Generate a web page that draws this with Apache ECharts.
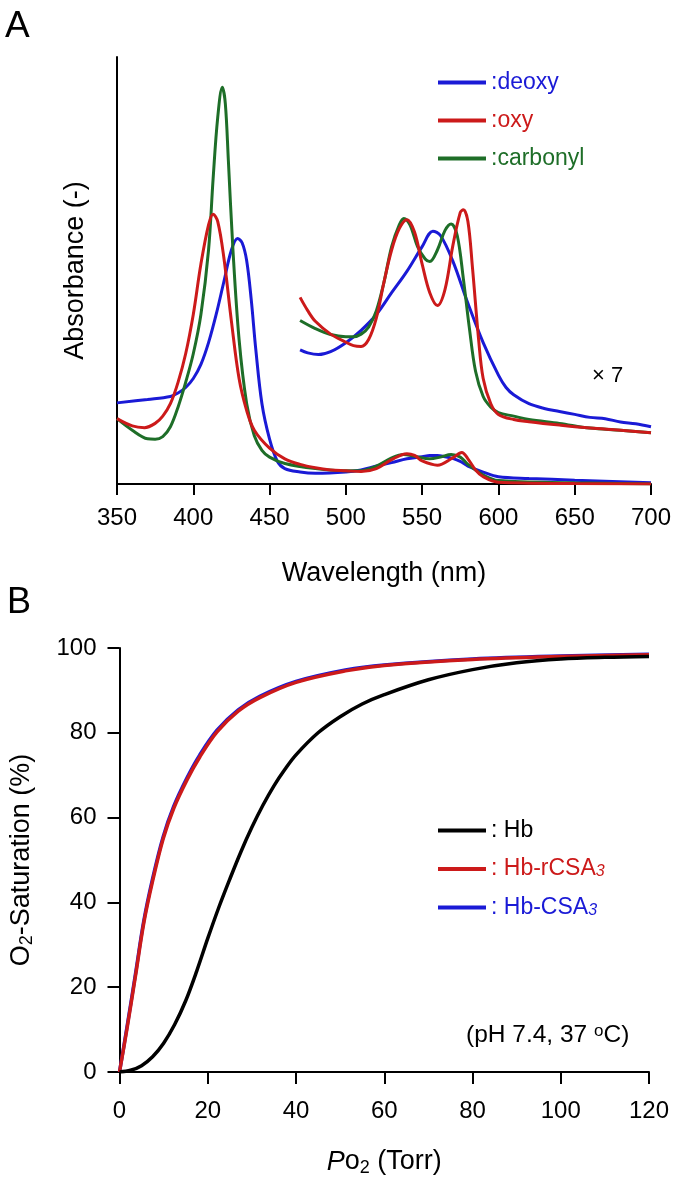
<!DOCTYPE html>
<html>
<head>
<meta charset="utf-8">
<script src="https://cdn.jsdelivr.net/npm/echarts@6/dist/echarts.min.js"></script>
<style>
html,body{margin:0;padding:0;background:#fff;}
#chart{width:675px;height:1178px;}
</style>
</head>
<body>
<div id="chart"></div>
<script>
// ---------- Panel A data: [wavelength nm, absorbance (relative)] ----------
const deoxyMain = [[350,0.190],[370,0.198],[385,0.205],[390,0.213],[395,0.226],[400,0.247],[405,0.280],[410,0.331],[415,0.397],[420,0.473],[425,0.548],[429,0.575],[432,0.565],[435,0.523],[438,0.431],[441,0.314],[445,0.188],[450,0.105],[455,0.054],[460,0.036],[470,0.028],[480,0.025],[500,0.028],[510,0.033],[520,0.042],[530,0.050],[540,0.059],[550,0.064],[555,0.067],[560,0.067],[565,0.064],[570,0.060],[575,0.053],[580,0.042],[590,0.028],[600,0.017],[620,0.013],[650,0.009],[700,0.003]];
const oxyMain = [[350,0.153],[360,0.136],[368,0.132],[375,0.142],[380,0.159],[385,0.188],[390,0.238],[395,0.305],[400,0.397],[405,0.515],[410,0.607],[413,0.632],[416,0.615],[420,0.531],[425,0.381],[430,0.247],[435,0.172],[440,0.126],[450,0.084],[460,0.059],[470,0.046],[480,0.038],[490,0.033],[500,0.031],[510,0.029],[520,0.036],[530,0.057],[540,0.071],[545,0.067],[550,0.054],[560,0.044],[570,0.061],[576,0.074],[580,0.059],[585,0.033],[590,0.017],[600,0.004],[650,0.001],[700,0.0]];
const carbonylMain = [[350,0.153],[360,0.126],[370,0.106],[375,0.105],[380,0.111],[385,0.134],[390,0.180],[395,0.238],[400,0.305],[405,0.397],[410,0.548],[413,0.715],[416,0.858],[419,0.929],[421,0.891],[423,0.757],[426,0.548],[430,0.339],[435,0.188],[440,0.113],[445,0.079],[450,0.063],[460,0.048],[480,0.036],[500,0.031],[510,0.031],[520,0.042],[530,0.061],[538,0.069],[545,0.065],[555,0.059],[562,0.063],[569,0.069],[575,0.063],[580,0.046],[590,0.021],[600,0.008],[650,0.003],[700,0.0]];
// x7 magnified visible region
const deoxyX7 = [[470,0.314],[475,0.307],[482,0.303],[490,0.310],[500,0.331],[510,0.360],[520,0.397],[530,0.448],[540,0.498],[550,0.556],[557,0.592],[562,0.582],[570,0.523],[580,0.423],[590,0.331],[600,0.255],[605,0.226],[610,0.209],[620,0.188],[630,0.177],[640,0.170],[650,0.163],[660,0.156],[670,0.153],[680,0.145],[690,0.141],[700,0.134]];
const oxyX7 = [[470,0.437],[475,0.406],[480,0.381],[490,0.351],[500,0.332],[505,0.324],[510,0.322],[515,0.339],[520,0.389],[525,0.473],[530,0.548],[535,0.598],[540,0.619],[545,0.590],[550,0.515],[555,0.448],[560,0.418],[565,0.456],[570,0.556],[575,0.636],[577,0.642],[580,0.615],[583,0.506],[587,0.339],[590,0.247],[595,0.188],[600,0.163],[610,0.151],[620,0.146],[640,0.138],[660,0.131],[680,0.126],[700,0.120]];
const carbonylX7 = [[470,0.383],[480,0.364],[490,0.350],[500,0.345],[505,0.345],[510,0.351],[515,0.368],[520,0.406],[525,0.473],[530,0.556],[535,0.607],[538,0.622],[542,0.607],[547,0.556],[552,0.527],[555,0.521],[560,0.548],[565,0.594],[569,0.609],[573,0.582],[577,0.481],[581,0.364],[585,0.264],[590,0.205],[595,0.180],[600,0.167],[610,0.159],[620,0.151],[640,0.142],[660,0.131],[680,0.126],[700,0.120]];

// ---------- Panel B data: [PO2 Torr, O2 saturation %] ----------
const hbCurve = [[0,0],[2.5,0.4],[5,1.5],[7.5,3.6],[10,6.8],[12.5,11.2],[15,16.8],[17.5,23.8],[20,31.5],[22.5,38.8],[25,45.5],[27.5,51.9],[30,57.7],[32.5,62.9],[35,67.5],[37.5,71.4],[40,74.8],[45,80.0],[50,83.8],[55,86.8],[60,89.0],[70,92.5],[80,94.9],[90,96.5],[100,97.4],[110,97.8],[120,98.0]];
const hbRCSA3Curve = [[0,0],[1.65,9.9],[3.6,22.5],[5.5,35.1],[7.5,45.0],[9.9,55.0],[12.3,62.2],[15.3,68.9],[18.2,74.3],[22.1,80.2],[26.9,85.1],[31.8,88.3],[40,91.9],[51.2,94.6],[60,95.9],[80,97.3],[100,98.0],[120,98.4]];
const hbCSA3Curve = [[0,0],[1.65,10.3],[3.6,23.0],[5.5,35.6],[7.5,45.6],[9.9,55.5],[12.3,62.7],[15.3,69.4],[18.2,74.8],[22.1,80.6],[26.9,85.4],[31.8,88.6],[40,92.1],[51.2,94.8],[60,96.0],[80,97.4],[100,98.1],[120,98.5]];

const BLUE = '#1a1ad6', RED = '#cc1a1a', GREEN = '#1e6e28', BLACK = '#000';
const FONT = 'Liberation Sans, Arial, Helvetica, sans-serif';

const chart = echarts.init(document.getElementById('chart'), null, {renderer:'canvas'});

function lineSeries(name, data, color, xi, width, z) {
  return {name, type:'line', data, xAxisIndex:xi, yAxisIndex:xi, showSymbol:false, symbol:'none',
    smooth:0.35, lineStyle:{color, width}, itemStyle:{color}, z:z||2, silent:true};
}

const axisLineStyle = {lineStyle:{color:'#000', width:2}};
const tickStyle = {show:true, inside:false, length:11, lineStyle:{color:'#000', width:2}};

const option = {
  animation:false,
  backgroundColor:'#fff',
  textStyle:{fontFamily:FONT},
  grid:[
    {left:117, top:57, width:534, height:427},
    {left:117, top:648, width:532, height:429}
  ],
  xAxis:[
    {gridIndex:0, type:'value', min:350, max:700, interval:50,
     axisLine:{show:true, onZero:false, ...axisLineStyle}, axisTick:tickStyle, splitLine:{show:false},
     axisLabel:{fontSize:24, color:'#000', margin:22, fontFamily:FONT},
     name:'Wavelength (nm)', nameLocation:'middle', nameGap:76,
     nameTextStyle:{fontSize:27, color:'#000', fontFamily:FONT}},
    {gridIndex:1, type:'value', min:0, max:120, interval:20,
     axisLine:{show:true, onZero:false, ...axisLineStyle}, axisTick:{...tickStyle, length:12}, splitLine:{show:false},
     axisLabel:{fontSize:24, color:'#000', margin:27, fontFamily:FONT},
     name:'{i|P}o{sub|2} (Torr)', nameLocation:'middle', nameGap:75,
     nameTextStyle:{fontSize:27, color:'#000', fontFamily:FONT,
       rich:{i:{fontSize:27, fontStyle:'italic', fontFamily:FONT, color:'#000'},
             sub:{fontSize:18, verticalAlign:'bottom', padding:[12,0,0,0], fontFamily:FONT, color:'#000'}}}}
  ],
  yAxis:[
    {gridIndex:0, type:'value', min:0, max:1,
     axisLine:{show:true, onZero:false, ...axisLineStyle}, axisTick:{show:false}, axisLabel:{show:false}, splitLine:{show:false},
     name:'Absorbance (-)', nameLocation:'middle', nameGap:28, nameRotate:90,
     nameTextStyle:{fontSize:27, color:'#000', fontFamily:FONT}},
    {gridIndex:1, type:'value', min:0, max:100, interval:20,
     axisLine:{show:true, onZero:false, ...axisLineStyle}, axisTick:{...tickStyle, length:12}, splitLine:{show:false},
     axisLabel:{fontSize:24, color:'#000', margin:23, fontFamily:FONT},
     name:'O{sub|2}-Saturation (%)', nameLocation:'middle', nameGap:83, nameRotate:90,
     nameTextStyle:{fontSize:27, color:'#000', fontFamily:FONT,
       rich:{sub:{fontSize:18, verticalAlign:'bottom', padding:[12,0,0,0], fontFamily:FONT, color:'#000'}}}}
  ],
  legend:[
    {orient:'vertical', left:438, top:71, itemWidth:48, itemHeight:4, itemGap:15, icon:'rect',
     selectedMode:false, padding:0,
     data:[{name:'deoxy', textStyle:{color:BLUE}}, {name:'oxy', textStyle:{color:RED}}, {name:'carbonyl', textStyle:{color:GREEN}}],
     formatter:n=>':'+n,
     textStyle:{fontSize:23, lineHeight:22, fontFamily:FONT}},
    {orient:'vertical', left:438, top:819, itemWidth:48, itemHeight:4, itemGap:15.5, icon:'rect',
     selectedMode:false, padding:0,
     data:[
       {name:'Hb', textStyle:{color:BLACK}},
       {name:'Hb-rCSA3', textStyle:{color:RED, rich:{s:{fontSize:16, fontStyle:'italic', color:RED, verticalAlign:'bottom', padding:[10,0,0,0]}}}},
       {name:'Hb-CSA3', textStyle:{color:BLUE, rich:{s:{fontSize:16, fontStyle:'italic', color:BLUE, verticalAlign:'bottom', padding:[10,0,0,0]}}}}
     ],
     formatter:n=> n==='Hb' ? ': Hb' : ': '+n.slice(0,-1)+'{s|3}',
     textStyle:{fontSize:23, lineHeight:22, fontFamily:FONT}}
  ],
  graphic:[
    {type:'text', left:5, top:8, style:{text:'A', fontSize:37, fontFamily:FONT, fill:'#000'}},
    {type:'text', left:7, top:585, style:{text:'B', fontSize:36, fontFamily:FONT, fill:'#000'}},
    {type:'text', left:592, top:365, style:{text:'× 7', fontSize:22, fontFamily:FONT, fill:'#000'}},
    {type:'text', left:466, top:1023, style:{text:'(pH 7.4, 37 {sup|o}C)', fontSize:24.5, fontFamily:FONT, fill:'#000',
      rich:{sup:{fontSize:17, fontFamily:FONT, fill:'#000', verticalAlign:'top', padding:[0,0,8,0]}}}}
  ],
  series:[
    lineSeries('deoxy', deoxyMain, BLUE, 0, 3, 2),
    lineSeries('deoxy', deoxyX7, BLUE, 0, 3, 2),
    lineSeries('carbonyl', carbonylMain, GREEN, 0, 3, 3),
    lineSeries('carbonyl', carbonylX7, GREEN, 0, 3, 3),
    lineSeries('oxy', oxyMain, RED, 0, 3, 4),
    lineSeries('oxy', oxyX7, RED, 0, 3, 4),
    lineSeries('Hb-CSA3', hbCSA3Curve, BLUE, 1, 3.5, 2),
    lineSeries('Hb-rCSA3', hbRCSA3Curve, RED, 1, 3.5, 3),
    lineSeries('Hb', hbCurve, BLACK, 1, 3.5, 4)
  ]
};
chart.setOption(option);
</script>
</body>
</html>
